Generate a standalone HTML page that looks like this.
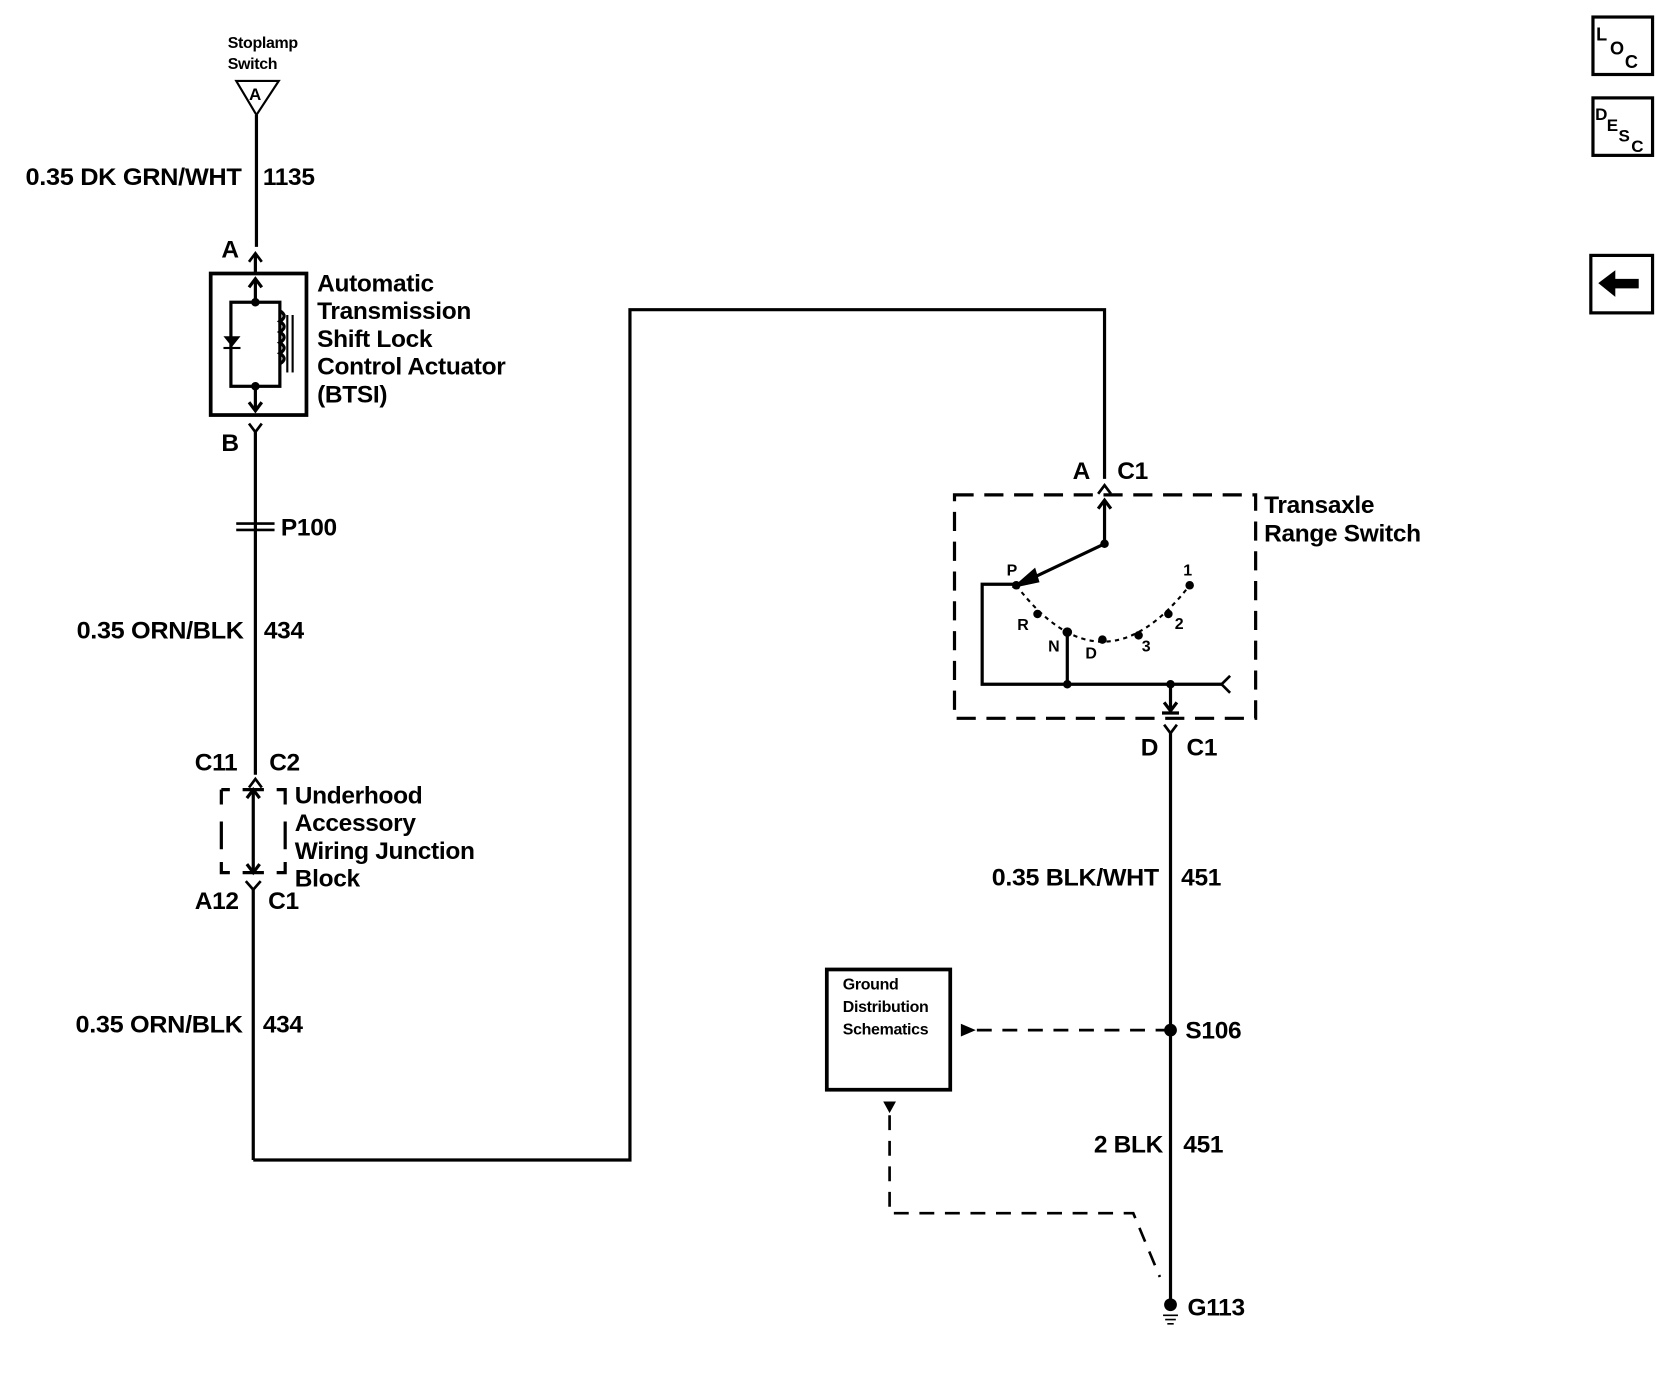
<!DOCTYPE html>
<html><head><meta charset="utf-8"><style>
html,body{margin:0;padding:0;background:#fff}
svg{display:block}
text{font-family:"Liberation Sans",Arial,sans-serif;font-weight:bold;fill:#000;letter-spacing:-0.3px}
</style></head><body>
<svg width="1660" height="1376" viewBox="0 0 1560 1293" preserveAspectRatio="none" xmlns="http://www.w3.org/2000/svg">
<g fill="none" stroke="#000" stroke-width="3">
<rect x="1497" y="16" width="56" height="54"/>
<rect x="1497" y="92" width="56" height="54"/>
<rect x="1495" y="240" width="58" height="54"/>
<path d="M222 76 L262 76 L241 108 Z" stroke-width="2"/>
<line x1="241" y1="108" x2="241" y2="232"/>
<path d="M234 246 L240 238 L246 246" stroke-width="2.5"/>
<line x1="240" y1="238" x2="240" y2="258"/>
<rect x="198" y="257" width="90" height="133" stroke-width="3.5"/>
<line x1="240" y1="262" x2="240" y2="284"/>
<path d="M234 270 L240 262 L246 270"/>
<rect x="217" y="284" width="46" height="79"/>
<line x1="240" y1="363" x2="240" y2="386"/>
<path d="M234 378 L240 386 L246 378"/>
<path d="M263 292 q8 5 0 10 q8 5 0 10 q8 5 0 10 q8 5 0 10 q8 5 0 10" />
<line x1="270" y1="296" x2="270" y2="350" stroke-width="2"/>
<line x1="275" y1="296" x2="275" y2="350" stroke-width="2"/>
<path d="M234 398 L240 406 L246 398" stroke-width="2.5"/>
<line x1="240" y1="406" x2="240" y2="728"/>
<path d="M222 492 h36 M222 498 h36" stroke-width="2.5"/>
<path d="M234 740 L240 732 L246 740" stroke-width="2.5"/>
<path d="M208 742 h8 M208 742 v14 M208 772 v26 M208 810 v10 h8 M260 742 h8 v14 M268 772 v26 M268 810 v10 h-8" stroke-width="3"/>
<line x1="228" y1="742" x2="248" y2="742"/>
<line x1="238" y1="742" x2="238" y2="820"/>
<path d="M232 750 L238 742 L244 750"/>
<path d="M232 812 L238 820 L244 812"/>
<line x1="228" y1="820" x2="248" y2="820"/>
<path d="M231 828 L238 836 L245 828" stroke-width="2.5"/>
<line x1="238" y1="836" x2="238" y2="1090"/>
<path d="M238 1090 H592 V291 H1038 V450"/>
<path d="M1032 464 L1038 456 L1044 464" stroke-width="2.5"/>
<rect x="897" y="465" width="283" height="210" stroke-dasharray="18,10"/>
<line x1="1038" y1="470" x2="1038" y2="511"/>
<path d="M1032 478 L1038 470 L1044 478"/>
<line x1="1038" y1="511" x2="960" y2="548"/>
<path d="M956 550 L972 536 L975 546 Z" fill="#000"/>
<path d="M955 550 Q1036 656 1118 550" stroke-width="2" stroke-dasharray="4,4"/>
<path d="M955 549 H923 V643 H1148" />
<path d="M1156 635 L1148 643 L1156 651" stroke-width="2.5"/>
<line x1="1003" y1="594" x2="1003" y2="643"/>
<line x1="1100" y1="643" x2="1100" y2="670"/>
<path d="M1094 660 L1100 668 L1106 660"/>
<line x1="1092" y1="670" x2="1108" y2="670"/>
<path d="M1094 681 L1100 689 L1106 681" stroke-width="2.5"/>
<line x1="1100" y1="689" x2="1100" y2="1222"/>
<rect x="777" y="911" width="116" height="113" stroke-width="3.5"/>
<path d="M918 968 H1100" stroke-dasharray="14,10" stroke-width="2.5"/>
<path d="M836 1048 V1140 H1065 L1090 1200" stroke-dasharray="14,10" stroke-width="2.5"/>
<path d="M1093 1236 h14 M1095 1240 h10 M1097 1244 h6" stroke-width="1.5"/>
</g>
<g fill="#000">
<path d="M903 962 L917 968 L903 974 Z"/>
<path d="M830 1035 L842 1035 L836 1046 Z"/>
<circle cx="240" cy="284" r="4"/><circle cx="240" cy="363" r="4"/>
<path d="M210 316 h16 l-8 10 z"/><rect x="210" y="326" width="16" height="2"/>
<circle cx="1038" cy="511" r="4"/>
<circle cx="955" cy="550" r="4"/><circle cx="975" cy="577" r="4"/><circle cx="1003" cy="594" r="4.5"/>
<circle cx="1036" cy="601" r="4"/><circle cx="1070" cy="597" r="4"/><circle cx="1098" cy="577" r="4"/><circle cx="1118" cy="550" r="4"/>
<circle cx="1003" cy="643" r="4"/><circle cx="1100" cy="643" r="4"/>
<circle cx="1100" cy="968" r="6"/><circle cx="1100" cy="1226" r="6"/>
<path d="M1502 266 L1518 254 V262 H1540 V271 H1518 V279 Z"/>
</g>
<text x="1500" y="38" font-size="17">L</text><text x="1513" y="51" font-size="17">O</text><text x="1527" y="64" font-size="17">C</text>
<text x="1499" y="113" font-size="16">D</text><text x="1510" y="123" font-size="16">E</text><text x="1521" y="133" font-size="16">S</text><text x="1533" y="143" font-size="16">C</text>
<text x="234" y="94" font-size="16">A</text>
<g font-size="15" style="letter-spacing:-1px"><text x="214" y="45">Stoplamp</text><text x="214" y="65">Switch</text></g>
<g font-size="23">
<text x="24" y="174" textLength="203" lengthAdjust="spacingAndGlyphs">0.35 DK GRN/WHT</text><text x="247" y="174">1135</text>
<text x="208" y="242">A</text><text x="208" y="424">B</text>
<text x="298" y="274">Automatic</text><text x="298" y="300">Transmission</text><text x="298" y="326">Shift Lock</text><text x="298" y="352">Control Actuator</text><text x="298" y="378">(BTSI)</text>
<text x="264" y="503">P100</text>
<text x="72" y="600" textLength="157" lengthAdjust="spacingAndGlyphs">0.35 ORN/BLK</text><text x="248" y="600">434</text>
<text x="183" y="724">C11</text><text x="253" y="724">C2</text>
<text x="277" y="755">Underhood</text><text x="277" y="781">Accessory</text><text x="277" y="807">Wiring Junction</text><text x="277" y="833">Block</text>
<text x="183" y="854">A12</text><text x="252" y="854">C1</text>
<text x="71" y="970" textLength="157" lengthAdjust="spacingAndGlyphs">0.35 ORN/BLK</text><text x="247" y="970">434</text>
<text x="1008" y="450">A</text><text x="1050" y="450">C1</text>
<text x="1188" y="482">Transaxle</text><text x="1188" y="509">Range Switch</text>
<text x="1072" y="710">D</text><text x="1115" y="710">C1</text>
<text x="932" y="832" textLength="157" lengthAdjust="spacingAndGlyphs">0.35 BLK/WHT</text><text x="1110" y="832">451</text>
<text x="1114" y="976">S106</text>
<text x="1028" y="1083">2 BLK</text><text x="1112" y="1083">451</text>
<text x="1116" y="1236">G113</text>
</g>
<g font-size="15"><text x="946" y="541">P</text><text x="956" y="592">R</text><text x="985" y="612">N</text><text x="1020" y="619">D</text><text x="1073" y="612">3</text><text x="1104" y="591">2</text><text x="1112" y="541">1</text></g>
<g font-size="15" style="letter-spacing:-1px"><text x="792" y="930">Ground</text><text x="792" y="951">Distribution</text><text x="792" y="972">Schematics</text></g>
</svg>
</body></html>
